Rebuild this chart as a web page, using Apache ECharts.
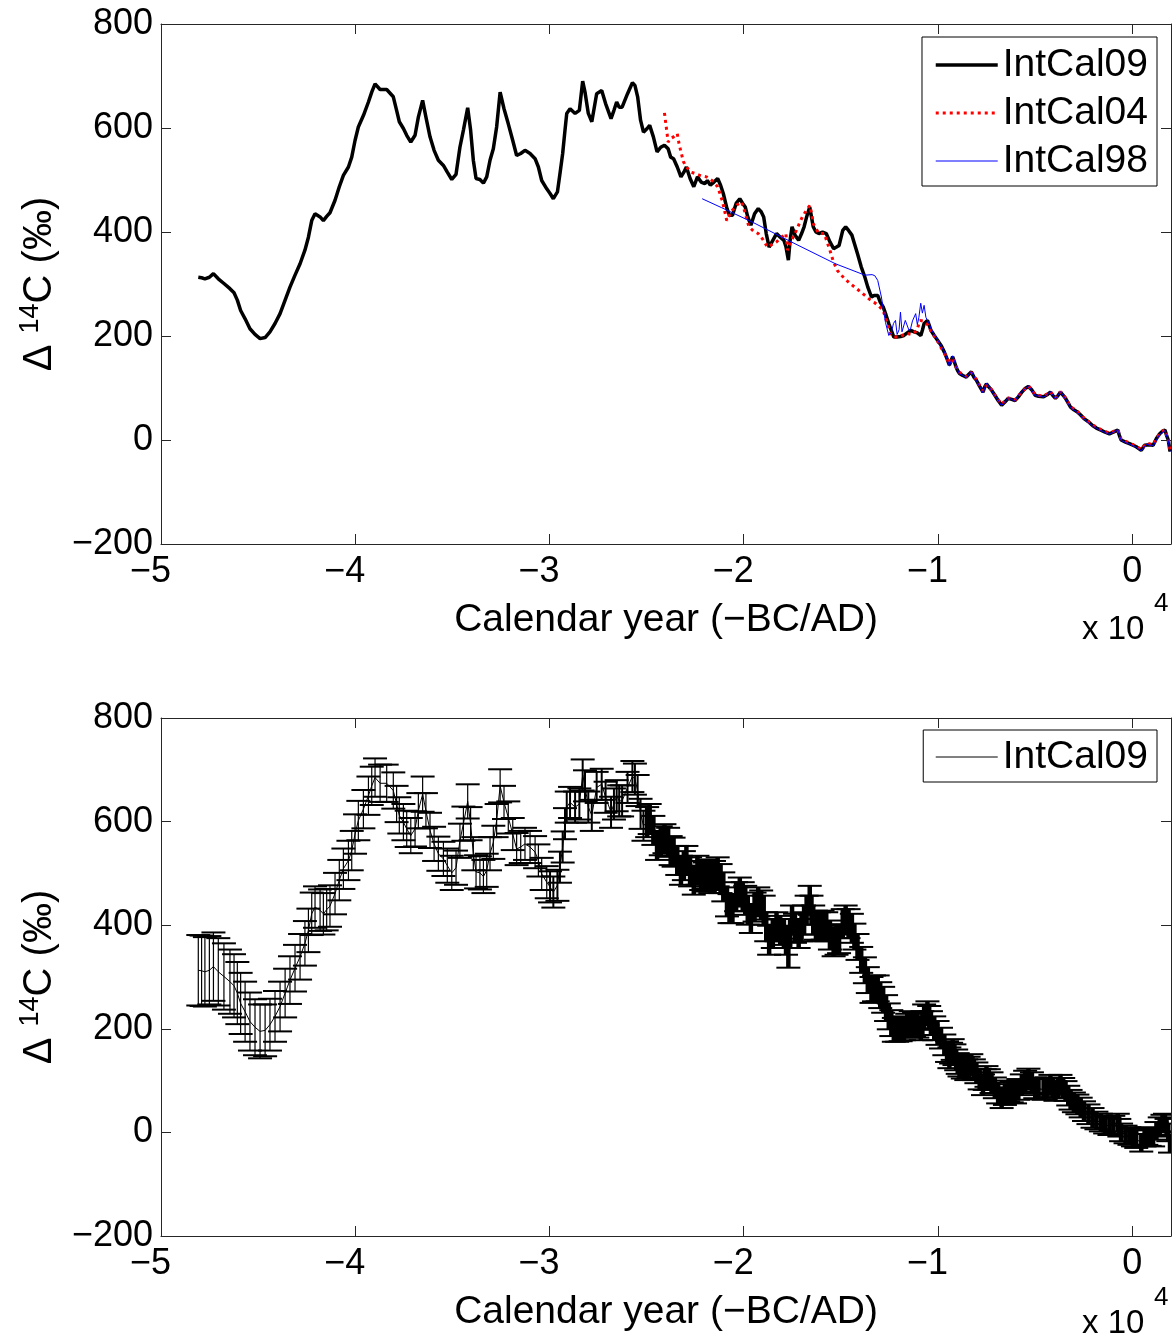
<!DOCTYPE html>
<html>
<head>
<meta charset="utf-8">
<script src="https://cdn.jsdelivr.net/npm/echarts@6/dist/echarts.min.js"></script>
<style>
html,body{margin:0;padding:0;background:#ffffff;}
#chart{width:1173px;height:1338px;}
</style>
</head>
<body>
<div id="chart"></div>
<script>
// ---------------- DATA ----------------
// IntCal09: [calendar year (-BC/AD), Delta14C (permil), error half-height as drawn (permil)]
const intcal09 = [
[-48080,313,68],[-47910,312,68],[-47740,310,67],[-47510,313,66],[-47300,320,66],
[-47050,310,65],[-46760,301,64],[-46450,291,62],[-46240,283,61],[-46070,269,60],
[-45900,249,59],[-45670,233,58],[-45420,214,56],[-45160,203,54],[-44900,195,52],
[-44640,197,50],[-44390,208,50],[-44130,224,49],[-43870,243,48],[-43610,269,47],
[-43360,294,46],[-43100,317,45],[-42840,339,44],[-42590,365,43],[-42410,390,42],
[-42240,422,41],[-42070,435,40],[-41810,429,40],[-41640,422,40],[-41470,430,40],
[-41300,437,40],[-41040,461,40],[-40820,487,39],[-40610,509,39],[-40350,525,38],
[-40180,544,38],[-40010,576,38],[-39840,602,38],[-39580,624,37],[-39320,650,37],
[-39150,669,37],[-38980,685,37],[-38720,674,36],[-38380,674,36],[-38040,660,35],
[-37870,634,35],[-37730,612,35],[-37520,599,35],[-37350,586,35],[-37140,573,34],
[-36920,586,34],[-36750,621,34],[-36530,653,34],[-36360,621,34],[-36150,583,34],
[-35940,557,33],[-35720,538,33],[-35460,528,33],[-35260,515,33],[-35030,501,33],
[-34810,511,33],[-34610,563,33],[-34430,596,33],[-34210,639,33],[-34060,596,32],
[-33920,538,32],[-33780,503,32],[-33580,501,32],[-33400,494,32],[-33230,506,32],
[-33060,538,32],[-32890,560,32],[-32720,602,32],[-32540,669,32],[-32340,637,32],
[-32120,608,31],[-31890,576,31],[-31690,547,31],[-31480,551,31],[-31260,557,31],
[-31000,551,31],[-30740,541,31],[-30570,525,31],[-30400,499,31],[-30140,483,31],
[-29970,474,30],[-29800,464,30],[-29590,477,30],[-29460,512,30],[-29320,551,30],
[-29200,596,30],[-29110,628,30],[-28940,637,30],[-28680,628,30],[-28460,634,30],
[-28290,690,30],[-28170,669,30],[-28000,628,30],[-27820,612,30],[-27570,666,30],
[-27310,672,30],[-27110,647,30],[-26830,618,30],[-26680,634,30],[-26540,650,30],
[-26410,640,30],[-26260,640,30],[-25980,666,30],[-25730,687,30],[-25600,682,30],
[-25460,660,30],[-25310,615,29],[-25160,592,29],[-24970,599,29],[-24840,605,29],
[-24650,583,28],[-24460,554,28],[-24270,563,28],[-24080,567,28],[-23890,560,28],
[-23760,544,28],[-23610,541,28],[-23420,525,28],[-23230,506,28],[-23080,515,28],
[-22950,525,28],[-22760,503,28],[-22570,487,28],[-22380,506,28],[-22190,496,28],
[-22000,493,28],[-21870,499,28],[-21720,490,28],[-21530,496,28],[-21340,503,28],
[-21190,490,28],[-21050,474,28],[-20860,445,28],[-20730,432,28],[-20580,432,28],
[-20390,455,28],[-20200,464,28],[-20050,455,28],[-19920,448,28],[-19790,429,28],
[-19630,413,28],[-19440,435,28],[-19250,445,28],[-19100,439,28],[-18970,429,28],
[-18840,397,28],[-18690,371,28],[-18500,384,28],[-18310,397,28],[-18120,390,28],
[-17930,384,28],[-17820,371,28],[-17700,346,28],[-17610,384,28],[-17510,410,28],
[-17360,394,28],[-17170,384,28],[-17020,397,28],[-16890,410,28],[-16760,429,28],
[-16600,448,28],[-16510,429,28],[-16420,410,28],[-16280,400,28],[-16130,397,28],
[-15940,400,28],[-15750,397,28],[-15560,381,28],[-15370,368,28],[-15220,371,28],
[-15090,374,28],[-14900,403,28],[-14750,410,28],[-14600,403,28],[-14430,394,28],
[-14300,378,25],[-14140,358,25],[-13950,333,25],[-13760,313,25],[-13610,294,25],
[-13420,275,25],[-13290,278,25],[-13100,278,25],[-12970,265,25],[-12820,256,25],
[-12670,240,25],[-12530,224,25],[-12400,211,25],[-12270,198,23],[-12100,198,23],
[-11920,199,23],[-11750,201,23],[-11580,206,23],[-11400,211,23],[-11230,208,23],
[-11060,206,23],[-10880,201,23],[-10800,211,23],[-10710,224,23],[-10540,230,23],
[-10450,221,23],[-10360,211,23],[-10190,201,23],[-10020,192,23],[-9840,182,20],
[-9670,169,20],[-9530,156,20],[-9410,144,20],[-9320,153,20],[-9240,160,20],
[-9150,150,20],[-9060,140,20],[-8980,133,20],[-8890,128,20],[-8720,124,20],
[-8540,121,20],[-8420,126,20],[-8280,131,20],[-8150,121,20],[-8020,115,20],
[-7850,103,20],[-7680,92,20],[-7590,102,20],[-7500,108,20],[-7380,102,20],
[-7240,96,20],[-7070,86,20],[-6900,76,20],[-6720,67,20],[-6550,73,20],
[-6380,80,20],[-6200,78,20],[-6030,76,20],[-5860,83,20],[-5680,92,20],
[-5510,99,20],[-5340,103,20],[-5160,96,20],[-4990,86,20],[-4820,84,20],
[-4560,83,20],[-4380,87,19],[-4210,92,19],[-4090,86,19],[-3950,80,19],
[-3810,86,19],[-3690,92,19],[-3550,86,19],[-3430,80,19],[-3290,71,19],
[-3170,63,19],[-3000,58,19],[-2820,54,19],[-2650,48,19],[-2480,41,19],
[-2250,35,19],[-2040,28,19],[-1840,23,17],[-1610,19,17],[-1390,15,17],
[-1170,12,17],[-970,15,17],[-740,19,17],[-660,9,17],[-570,0,17],
[-340,-4,17],[-140,-7,17],[40,-10,17],[210,-13,17],[470,-20,17],
[640,-10,17],[730,-7,17],[900,-9,17],[1080,-10,17],[1250,3,17],
[1420,12,17],[1560,17,17],[1690,19,17],[1770,9,17],[1860,0,17],
[1950,-22,17]
];

// IntCal04: [year, Delta14C]
const intcal04 = [
[-24080,629],[-23980,600],[-23890,573],[-23750,580],[-23610,583],[-23420,589],[-23330,570],[-23230,554],[-23100,535],[-22950,525],
[-22700,515],[-22470,512],[-22200,508],[-21910,506],[-21600,498],[-21340,487],[-21100,460],[-20870,422],[-20700,435],[-20580,442],
[-20350,452],[-20110,458],[-19950,440],[-19730,410],[-19500,402],[-19250,397],[-19000,385],[-18780,371],[-18550,376],[-18310,381],
[-18050,390],[-17830,397],[-17740,365],[-17600,380],[-17360,397],[-17150,415],[-16980,429],[-16800,440],[-16600,451],[-16500,435],
[-16420,416],[-16250,405],[-16130,397],[-15850,397],[-15700,380],[-15560,365],[-15400,345],[-15180,326],[-14850,312],[-14520,301],
[-14150,290],[-13760,278],[-13500,270],[-13290,265],[-13050,258],[-12820,249],[-12650,230],[-12440,204],[-12250,198],[-12060,198],
[-11850,201],[-11600,205],[-11350,203],[-11100,210],[-10920,230],[-10700,228],[-10540,222],[-10360,210],[-10020,190],[-9850,178],
[-9670,168],[-9410,146],[-9240,158],[-9060,140],[-8890,130],[-8540,122],[-8280,130],[-8020,116],[-7680,94],[-7500,106],
[-7240,97],[-7070,87],[-6730,69],[-6380,81],[-6030,77],[-5680,93],[-5330,104],[-4990,87],[-4560,84],[-4210,93],
[-3950,81],[-3690,93],[-3430,81],[-3170,64],[-2820,55],[-2480,42],[-2040,29],[-1610,20],[-1170,13],[-740,20],
[-570,2],[-130,-6],[210,-12],[470,-18],[730,-6],[1080,-9],[1420,13],[1680,20],[1860,1],[1950,-20]
];

// IntCal98: [year, Delta14C]
const intcal98 = [
[-22140,464],[-21150,447],[-19500,418],[-17550,381],[-15280,339],[-13760,317],[-13390,318],[-13250,316],[-13100,307],[-12910,275],
[-12700,226],[-12530,201],[-12400,206],[-12290,224],[-12185,230],[-12100,203],[-12000,212],[-11928,246],[-11850,208],[-11760,205],
[-11680,230],[-11583,227],[-11480,210],[-11400,215],[-11310,229],[-11231,227],[-11145,243],[-11060,222],[-10980,236],[-10885,263],
[-10800,244],[-10711,259],[-10620,236],[-10453,224],[-10360,214],[-10200,203],[-10020,193],[-9850,181],[-9670,170],[-9530,156],
[-9410,142],[-9240,162],[-9060,141],[-8890,127],[-8700,124],[-8540,120],[-8280,132],[-8020,114],[-7850,103],[-7680,91],
[-7500,109],[-7240,95],[-7070,85],[-6900,77],[-6730,66],[-6380,81],[-6030,75],[-5850,87],[-5680,93],[-5330,104],
[-4990,85],[-4780,85],[-4560,82],[-4210,93],[-3950,79],[-3690,93],[-3430,79],[-3170,62],[-2820,53],[-2480,40],
[-2040,27],[-1610,18],[-1170,11],[-740,20],[-570,-1],[-130,-8],[210,-14],[470,-21],[730,-8],[1080,-11],
[1420,11],[1680,18],[1860,-1],[1950,-23]
];

// Axis ticks
const xTickValues = [-50000,-40000,-30000,-20000,-10000,0];
const xTickLabels = ['\u22125','\u22124','\u22123','\u22122','\u22121','0'];
const yTickValues = [-200,0,200,400,600,800];
const yTickLabels = ['\u2212200','0','200','400','600','800'];

// ---------------- CHART ----------------
const TICK_FONT = '"Liberation Sans", Arial, sans-serif';
const LABEL_FONT = '"Liberation Sans", Arial, sans-serif';
const AXIS_COLOR = '#262626';

const line09 = intcal09.map(d => [d[0], d[1]]);
const bars09 = intcal09.map(d => [d[0], d[1], d[2]]);

function xLabelFmt(v){
  const i = xTickValues.indexOf(v);
  if (i < 0) return '';
  const t = xTickLabels[i];
  return t.charAt(0) === '\u2212' ? '{neg|' + t + '}' : '{pos|' + t + '}';
}
function yLabelFmt(v){
  const i = yTickValues.indexOf(v);
  return i < 0 ? '' : yTickLabels[i];
}

function mainX(gi){
  return {
    type:'value', gridIndex:gi, min:-50000, max:2000, interval:10000, position:'bottom',
    axisLine:{show:true, onZero:false, lineStyle:{color:AXIS_COLOR, width:1}},
    axisTick:{show:true, inside:true, length:10, lineStyle:{color:AXIS_COLOR, width:1}},
    splitLine:{show:false},
    axisLabel:{show:true, margin:10, showMaxLabel:false, formatter:xLabelFmt, color:'#000',
      fontFamily:TICK_FONT, fontSize:36,
      rich:{
        neg:{fontFamily:TICK_FONT, fontSize:36, color:'#000', padding:[0,21,0,0]},
        pos:{fontFamily:TICK_FONT, fontSize:36, color:'#000'}
      }},
    name:'Calendar year (\u2212BC/AD)', nameLocation:'middle', nameGap:57,
    nameTextStyle:{fontFamily:LABEL_FONT, fontSize:39, color:'#000'}
  };
}
function mirrorX(gi){
  return {
    type:'value', gridIndex:gi, min:-50000, max:2000, interval:10000, position:'top',
    axisLine:{show:true, onZero:false, lineStyle:{color:AXIS_COLOR, width:1}},
    axisTick:{show:true, inside:true, length:10, lineStyle:{color:AXIS_COLOR, width:1}},
    splitLine:{show:false}, axisLabel:{show:false}
  };
}
function mainY(gi){
  return {
    type:'value', gridIndex:gi, min:-200, max:800, interval:200, position:'left',
    axisLine:{show:true, onZero:false, lineStyle:{color:AXIS_COLOR, width:1}},
    axisTick:{show:true, inside:true, length:10, lineStyle:{color:AXIS_COLOR, width:1}},
    splitLine:{show:false},
    axisLabel:{show:true, margin:8, formatter:yLabelFmt, color:'#000', fontFamily:TICK_FONT, fontSize:36},
    name:'{d|\u0394 }{s|14}{c|C (\u2030)}', nameLocation:'middle', nameRotate:90, nameGap:98,
    nameTextStyle:{
      color:'#000',
      rich:{
        d:{fontFamily:TICK_FONT, fontSize:40, color:'#000', lineHeight:46},
        s:{fontFamily:TICK_FONT, fontSize:27, color:'#000', verticalAlign:'top', lineHeight:46},
        c:{fontFamily:TICK_FONT, fontSize:40, color:'#000', lineHeight:46}
      }
    }
  };
}
function mirrorY(gi){
  return {
    type:'value', gridIndex:gi, min:-200, max:800, interval:200, position:'right',
    axisLine:{show:true, onZero:false, lineStyle:{color:AXIS_COLOR, width:1}},
    axisTick:{show:true, inside:true, length:10, lineStyle:{color:AXIS_COLOR, width:1}},
    splitLine:{show:false}, axisLabel:{show:false}
  };
}

// Style: the finely resolved part of the record is drawn as a dense,
// solid band of bars, as in the original figure; older parts are hatched.
const DENSE_FROM_YEAR = -25000;
const MEDIUM_FROM_YEAR = -30000;
function renderErrorBar(params, api){
  const x = api.value(0), y = api.value(1), e = api.value(2);
  const lo = api.coord([x, y - e]);
  const hi = api.coord([x, y + e]);
  const vw = x >= DENSE_FROM_YEAR ? 4.5 : (x >= MEDIUM_FROM_YEAR ? 2 : 1.2);
  const half = 12;
  const vStyle = {stroke:'#000', lineWidth:vw, fill:null};
  const cStyle = {stroke:'#000', lineWidth:2, fill:null};
  return {
    type:'group',
    children:[
      {type:'line', shape:{x1:lo[0], y1:lo[1], x2:hi[0], y2:hi[1]}, style:vStyle},
      {type:'line', shape:{x1:lo[0]-half, y1:lo[1], x2:lo[0]+half, y2:lo[1]}, style:cStyle},
      {type:'line', shape:{x1:hi[0]-half, y1:hi[1], x2:hi[0]+half, y2:hi[1]}, style:cStyle}
    ]
  };
}

const chart = echarts.init(document.getElementById('chart'), null, {renderer:'canvas'});

const hideSym = {opacity:0};
const option = {
  animation:false,
  backgroundColor:'#ffffff',
  grid:[
    {left:161, top:24, width:1010, height:520, show:false},
    {left:161, top:718, width:1010, height:518, show:false}
  ],
  xAxis:[mainX(0), mirrorX(0), mainX(1), mirrorX(1)],
  yAxis:[mainY(0), mirrorY(0), mainY(1), mirrorY(1)],
  legend:[
    {
      orient:'vertical', right:16, top:37,
      backgroundColor:'#ffffff', borderColor:'#000', borderWidth:1, borderRadius:0,
      padding:[8,9,5,12], itemWidth:62, itemHeight:14, itemGap:8,
      textStyle:{fontFamily:LABEL_FONT, fontSize:39, color:'#000', lineHeight:40},
      data:[
        {name:'IntCal09', lineStyle:{width:3.5}, itemStyle:hideSym},
        {name:'IntCal04', lineStyle:{width:3}, itemStyle:hideSym},
        {name:'IntCal98', lineStyle:{width:1}, itemStyle:hideSym}
      ]
    },
    {
      orient:'vertical', right:16, top:730,
      backgroundColor:'#ffffff', borderColor:'#000', borderWidth:1, borderRadius:0,
      padding:[7,9,5,12], itemWidth:62, itemHeight:14, itemGap:7,
      textStyle:{fontFamily:LABEL_FONT, fontSize:39, color:'#000', lineHeight:40},
      data:[{name:'IntCal09', lineStyle:{width:1}, itemStyle:hideSym}]
    }
  ],
  series:[
    {name:'IntCal09', type:'line', xAxisIndex:0, yAxisIndex:0, data:line09,
      showSymbol:false, symbol:'none', color:'#000', lineStyle:{color:'#000', width:3.5}, z:2},
    {name:'IntCal04', type:'line', xAxisIndex:0, yAxisIndex:0, data:intcal04,
      showSymbol:false, symbol:'none', color:'#ff0000', lineStyle:{color:'#ff0000', width:3, type:[3,4]}, z:3},
    {name:'IntCal98', type:'line', xAxisIndex:0, yAxisIndex:0, data:intcal98,
      showSymbol:false, symbol:'none', color:'#0000ff', lineStyle:{color:'#0000ff', width:1}, z:4},
    {name:'IntCal09', type:'line', xAxisIndex:2, yAxisIndex:2, data:line09,
      showSymbol:false, symbol:'none', color:'#000', lineStyle:{color:'#000', width:1}, z:3},
    {name:'IntCal09 error', type:'custom', xAxisIndex:2, yAxisIndex:2, data:bars09,
      renderItem:renderErrorBar, clip:true, silent:true, encode:{x:0, y:1}, z:2}
  ],
  graphic:[
    {type:'text', left:1082, top:613, style:{text:'x 10', font:'33px "Liberation Sans", Arial, sans-serif', fill:'#000'}},
    {type:'text', left:1154, top:591, style:{text:'4', font:'26px "Liberation Sans", Arial, sans-serif', fill:'#000'}},
    {type:'text', left:1082, top:1307, style:{text:'x 10', font:'33px "Liberation Sans", Arial, sans-serif', fill:'#000'}},
    {type:'text', left:1154, top:1285, style:{text:'4', font:'26px "Liberation Sans", Arial, sans-serif', fill:'#000'}}
  ]
};
chart.setOption(option);
</script>
</body>
</html>
